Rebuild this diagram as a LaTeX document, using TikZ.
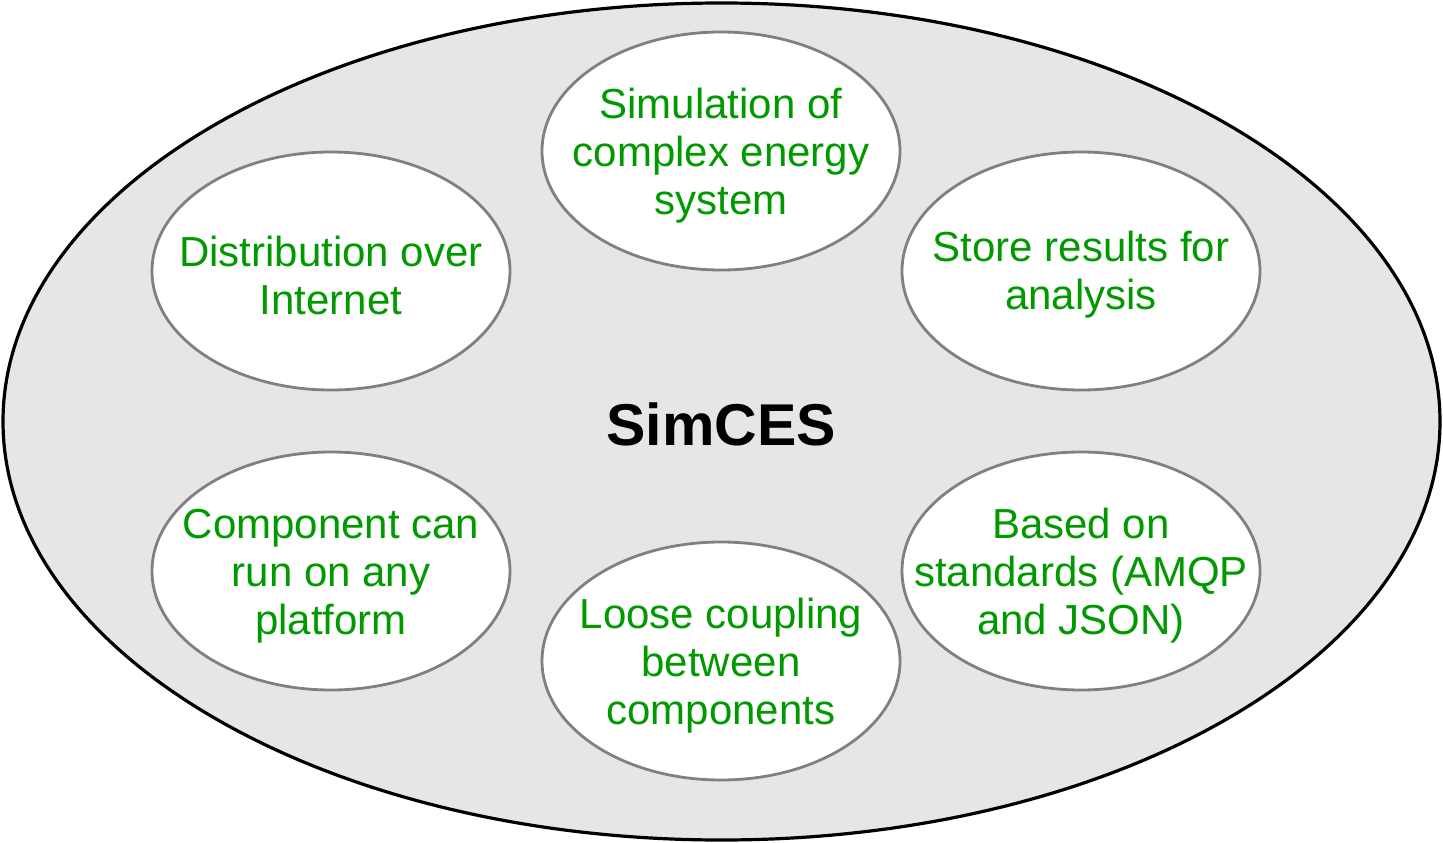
\documentclass[tikz,border=0pt]{standalone}
\usepackage{fontspec}
\setmainfont{Liberation Sans}
\usetikzlibrary{shapes.geometric}
\definecolor{txtgreen}{RGB}{0,153,0}
\definecolor{bgfill}{RGB}{230,230,230}
\definecolor{ringgray}{RGB}{128,128,128}
\begin{document}
\begin{tikzpicture}[x=1pt,y=-1pt,
  bubble/.style={ellipse,draw=ringgray,line width=2.8pt,fill=white,
    minimum width=358pt,minimum height=238pt,inner sep=0pt},
  label/.style={text=txtgreen,align=center,inner sep=0pt,font=\fontsize{42}{48}\selectfont},
  outer/.style={ellipse,draw=black,line width=3.2pt,fill=bgfill,
    minimum width=1437pt,minimum height=837pt,inner sep=0pt}]
\useasboundingbox (0,0) rectangle (1443,843);
\node[outer] (sys) at (721.5,421.5) {};
\node[font=\bfseries\fontsize{59}{66}\selectfont] (title) at (721,424) {SimCES};
\node[bubble] (sim) at (721,151) {};
\node[bubble] (dist) at (331,271) {};
\node[bubble] (store) at (1081,271) {};
\node[bubble] (comp) at (331,571) {};
\node[bubble] (std) at (1081,571) {};
\node[bubble] (loose) at (721,661) {};
\node[label] (simt) at ([yshift=-5pt]sim.center) {Simulation of\\complex energy\\system};
\node[label] (distt) at ([yshift=-4pt]dist.center) {Distribution over\\Internet};
\node[label] (storet) at ([yshift=-4pt]store.center) {Store results for\\analysis};
\node[label] (compt) at ([yshift=-5pt]comp.center) {Component can\\run on any\\platform};
\node[label] (stdt) at ([yshift=-5pt]std.center) {Based on\\standards (AMQP\\and JSON)};
\node[label] (looset) at ([yshift=-5pt]loose.center) {Loose coupling\\between\\components};
\end{tikzpicture}
\end{document}
